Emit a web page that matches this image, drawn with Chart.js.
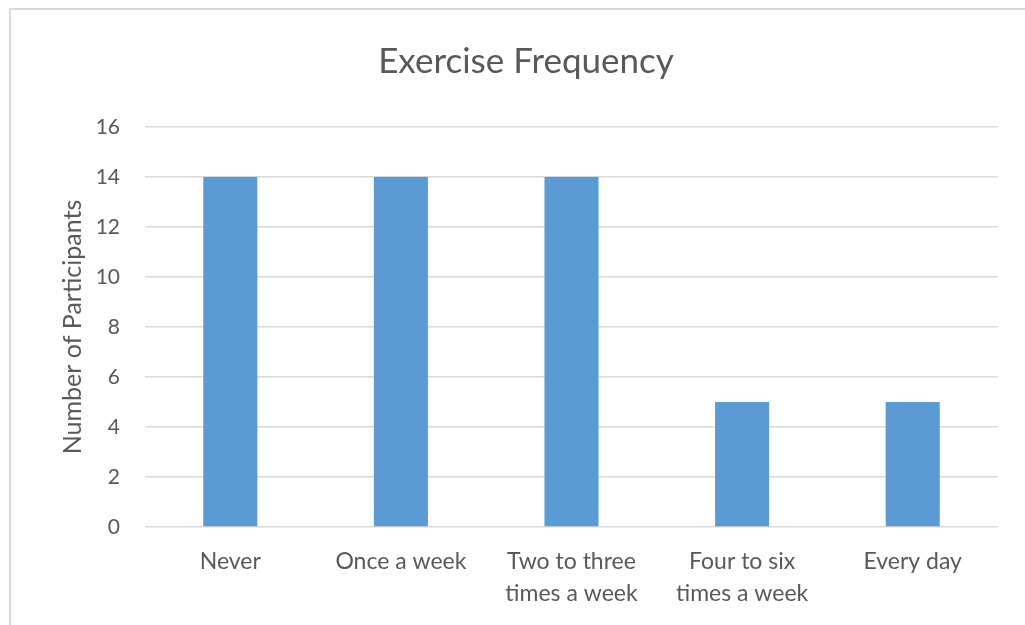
<!DOCTYPE html>
<html>
<head>
<meta charset="utf-8">
<script src="https://cdn.jsdelivr.net/npm/chart.js@4"></script>
<style>
  html, body { margin: 0; padding: 0; background: #fff; overflow: hidden; }
  #frame {
    position: absolute; left: 9px; top: 8px; width: 1100px; height: 700px;
    border-top: 2px solid #d9d9d9; border-left: 2px solid #d9d9d9;
  }
  #wrap { position: absolute; left: 0; top: 0; width: 1025px; height: 625px; }
</style>
</head>
<body>
<div id="frame"></div>
<div id="wrap"><canvas id="c" width="1025" height="625"></canvas></div>
<script>
// Survey answers: how often participants exercise
const categories = [
  "Never",
  "Once a week",
  ["Two to three", "times a week"],
  ["Four to six", "times a week"],
  "Every day"
];
const participants = [14, 14, 14, 5, 5];
const yTicks = [0, 2, 4, 6, 8, 10, 12, 14, 16];

const textColor = "#595959";
const fontFamily = "Lato, 'Open Sans', sans-serif";

new Chart(document.getElementById("c"), {
  type: "bar",
  data: {
    labels: categories,
    datasets: [{
      label: "Number of Participants",
      data: participants,
      backgroundColor: "#5b9bd5",
      borderWidth: 0,
      categoryPercentage: 1,
      barPercentage: 0.317
    }]
  },
  options: {
    responsive: false,
    animation: false,
    layout: { padding: { left: 54, right: 27, top: 0, bottom: 0 } },
    plugins: {
      legend: { display: false },
      tooltip: { enabled: false },
      title: {
        display: true,
        text: "Exercise Frequency",
        color: textColor,
        font: { family: fontFamily, size: 35, weight: "normal", lineHeight: 1.2 },
        padding: { top: 41, bottom: 44 }
      }
    },
    scales: {
      x: {
        grid: { display: false, drawTicks: false },
        border: { display: false },
        ticks: {
          color: textColor,
          padding: 19,
          maxRotation: 0,
          autoSkip: false,
          font: { family: fontFamily, size: 23, lineHeight: 1.39 }
        },
        afterFit: s => { s.height = 98; }
      },
      y: {
        min: 0,
        max: 16,
        afterBuildTicks: s => { s.ticks = yTicks.map(v => ({ value: v })); },
        grid: { color: "#d9d9d9", lineWidth: 1.5, drawTicks: false },
        border: { display: false },
        ticks: {
          color: textColor,
          padding: 25,
          font: { family: fontFamily, size: 21 }
        },
        title: {
          display: true,
          text: "Number of Participants",
          color: textColor,
          font: { family: fontFamily, size: 25, lineHeight: 1.2 },
          padding: { top: 4, bottom: 0 }
        },
        afterFit: s => { s.width = 91; }
      }
    }
  }
});
</script>
</body>
</html>
